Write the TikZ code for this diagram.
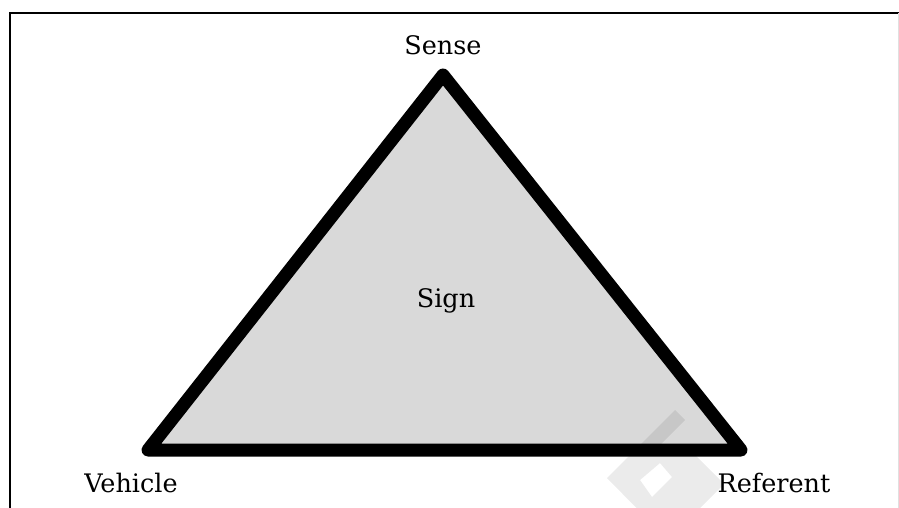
\documentclass[tikz,border=0pt]{standalone}
\usepackage{fontspec}
\setmainfont{DejaVu Serif}
\begin{document}
\begin{tikzpicture}[x=1pt,y=-1pt,
  lbl/.style={font=\fontsize{25.5}{28}\selectfont, inner sep=0pt, anchor=base},
  edgeline/.style={line width=13pt, line join=round, line cap=round},
  wmark/.style={fill=black, opacity=0.08}]
\useasboundingbox (0,0) rectangle (899,508);
% frame
\draw[line width=2.6pt] (10,510) -- (10,13) -- (899,13);
\draw[line width=1pt, black!12] (898,13) -- (898,510);
% triangle
\coordinate (apex) at (443,75);
\coordinate (vl) at (148,450);
\coordinate (vr) at (741,450);
\fill[black!15] (apex) -- (vl) -- (vr) -- cycle;
% faint watermark
\fill[wmark, even odd rule] (675,410) -- (685,420) -- (660,445) -- (685,445)
  -- (724,484) -- (668,540) -- (607,478) -- cycle
  (640,480) -- (660,463) -- (672,477) -- (652,497) -- cycle;
\draw[edgeline] (apex) -- (vl) -- (vr) -- cycle;
% labels
\node[lbl] (sense) at (443,55) {Sense};
\node[lbl] (sign) at (446,307) {Sign};
\node[lbl] (vehicle) at (131,492) {Vehicle};
\node[lbl] (referent) at (774,492) {Referent};
\end{tikzpicture}
\end{document}
